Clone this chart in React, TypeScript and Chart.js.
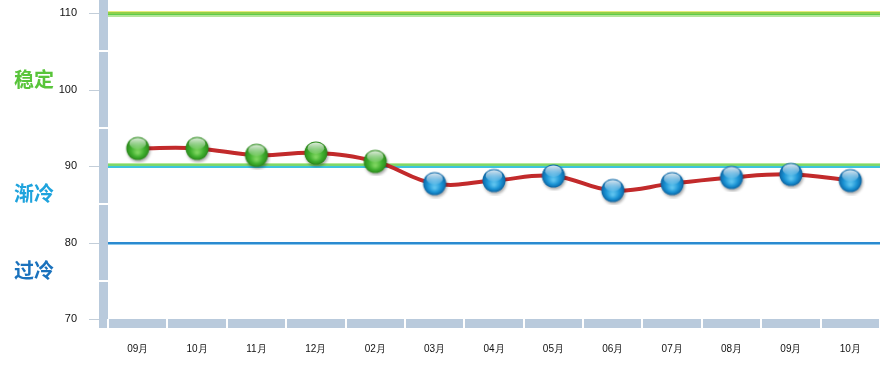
import React, { useEffect, useRef } from 'react';
import { Chart, registerables } from 'chart.js';

Chart.register(...registerables);

const categories = ['09月', '10月', '11月', '12月', '02月', '03月', '04月', '05月', '06月', '07月', '08月', '09月', '10月'];
const values = [92.3, 92.3, 91.4, 91.7, 90.6, 87.7, 88.1, 88.7, 86.8, 87.7, 88.5, 88.9, 88.1];
const yTickValues = [70, 75, 80, 85, 90, 95, 100, 105, 110];
const zoneNames = ['稳定', '渐冷', '过冷'];
const zoneColors = ['#58c43a', '#1ea3dd', '#1a72bd'];
const zoneThreshold = 90;

const BAR = '#b9cadc';

function makeBall(dark: string, mid: string, light: string): HTMLCanvasElement {
  const S = 30;
  const c = document.createElement('canvas');
  c.width = S;
  c.height = S;
  const ctx = c.getContext('2d')!;
  const cx = 15, cy = 15, r = 11.5;
  ctx.save();
  ctx.shadowColor = 'rgba(0,0,0,0.35)';
  ctx.shadowBlur = 3;
  ctx.shadowOffsetX = 1;
  ctx.shadowOffsetY = 2;
  ctx.beginPath();
  ctx.arc(cx, cy, r, 0, Math.PI * 2);
  ctx.fillStyle = dark;
  ctx.fill();
  ctx.restore();
  const g = ctx.createRadialGradient(cx, cy + 4, 1, cx, cy, r);
  g.addColorStop(0, light);
  g.addColorStop(0.55, mid);
  g.addColorStop(1, dark);
  ctx.beginPath();
  ctx.arc(cx, cy, r - 0.6, 0, Math.PI * 2);
  ctx.fillStyle = g;
  ctx.fill();
  const gl = ctx.createLinearGradient(0, cy - r, 0, cy + 1);
  gl.addColorStop(0, 'rgba(255,255,255,0.9)');
  gl.addColorStop(1, 'rgba(255,255,255,0.08)');
  ctx.beginPath();
  ctx.ellipse(cx, cy - r * 0.42, r * 0.72, r * 0.5, 0, 0, Math.PI * 2);
  ctx.fillStyle = gl;
  ctx.fill();
  return c;
}

const decorPlugin = {
  id: 'decor',
  beforeDatasetsDraw(chart: any) {
    const { ctx, chartArea } = chart;
    const y = chart.scales.y;
    const { left, right, bottom } = chartArea;
    ctx.save();
    // vertical axis bar
    ctx.fillStyle = BAR;
    ctx.fillRect(left - 9, 0, 9, bottom + 9);
    // horizontal axis bar
    ctx.fillRect(left + 1, bottom, right - left - 2, 9);
    // white separators on bottom bar
    ctx.fillStyle = '#ffffff';
    const step = (right - left) / categories.length;
    for (let i = 0; i < categories.length; i++) {
      const bx = Math.round(left + i * step);
      ctx.fillRect(bx - 1, bottom, 2, 9);
    }
    // minor tick separators on vertical bar / major tick marks
    yTickValues.forEach((v) => {
      const py = Math.round(y.getPixelForValue(v));
      if (v % 10 !== 0) {
        ctx.fillStyle = '#ffffff';
        ctx.fillRect(left - 9, py - 1, 9, 2);
      } else {
        ctx.fillStyle = '#c3ced9';
        ctx.fillRect(left - 19, py, 10, 1);
      }
    });
    // reference lines
    const l110 = Math.round(y.getPixelForValue(110));
    ctx.fillStyle = '#e8ec7a';
    ctx.fillRect(left, l110 - 2, right - left, 1);
    ctx.fillStyle = '#8fd04a';
    ctx.fillRect(left, l110 - 1, right - left, 2);
    ctx.fillStyle = '#5fcc4a';
    ctx.fillRect(left, l110 + 1, right - left, 1);
    ctx.fillStyle = '#b4e69a';
    ctx.fillRect(left, l110 + 2, right - left, 2);

    const l90 = Math.round(y.getPixelForValue(90));
    ctx.fillStyle = '#b6e89a';
    ctx.fillRect(left, l90 - 3, right - left, 1);
    ctx.fillStyle = '#7ed86a';
    ctx.fillRect(left, l90 - 2, right - left, 2);
    ctx.fillStyle = '#3ec4dc';
    ctx.fillRect(left, l90, right - left, 2);

    const l80 = Math.round(y.getPixelForValue(80));
    ctx.fillStyle = '#2a8ad0';
    ctx.fillRect(left, l80 - 1, right - left, 2);
    ctx.fillStyle = '#8cc8ec';
    ctx.fillRect(left, l80 + 1, right - left, 1);

    // zone labels
    const zoneLabelValues = [101.3, 86.4, 76.3];
    ctx.font = 'bold 20px "Noto Sans CJK SC", sans-serif';
    ctx.textBaseline = 'middle';
    ctx.textAlign = 'left';
    zoneNames.forEach((n, i) => {
      ctx.fillStyle = zoneColors[i];
      ctx.fillText(n, 14, y.getPixelForValue(zoneLabelValues[i]));
    });
    ctx.restore();
  },
};

export default function App() {
  const ref = useRef<HTMLCanvasElement>(null);
  useEffect(() => {
    const green = makeBall('#2c8a1c', '#3fae2e', '#7cd45e');
    const blue = makeBall('#0c67a6', '#1b93d4', '#5cc2ee');
    const chart = new Chart(ref.current!, {
      type: 'line',
      data: {
        labels: categories,
        datasets: [
          {
            data: values,
            borderColor: '#c22a2b',
            borderWidth: 4,
            tension: 0.4,
            pointStyle: (c: any) => (values[c.dataIndex] >= zoneThreshold ? green : blue) as any,
            pointRadius: 12,
            pointHoverRadius: 12,
            fill: false,
          },
        ],
      },
      options: {
        animation: false,
        responsive: false,
        devicePixelRatio: 1,
        layout: { autoPadding: false, padding: { top: 0, right: 14, bottom: 0, left: 0 } },
        plugins: { legend: { display: false }, tooltip: { enabled: false } },
        scales: {
          x: {
            offset: true,
            grid: { display: false, drawTicks: false },
            border: { display: false },
            ticks: {
              padding: 24,
              color: '#111',
              font: { family: '"Liberation Sans", Arial, sans-serif', size: 10 },
              maxRotation: 0,
              autoSkip: false,
            },
            afterFit: (s: any) => {
              s.height = 54;
              s.paddingLeft = 0;
              s.paddingRight = 0;
            },
          },
          y: {
            min: 70,
            max: 111.7,
            grid: { display: false, drawTicks: false },
            border: { display: false },
            afterBuildTicks: (s: any) => {
              s.ticks = yTickValues.map((v) => ({ value: v }));
            },
            ticks: {
              padding: 31,
              color: '#111',
              font: { family: '"Liberation Sans", Arial, sans-serif', size: 11 },
              callback: (v: any) => (Number(v) % 10 === 0 ? String(v) : ''),
            },
            afterFit: (s: any) => {
              s.width = 108;
              s.paddingTop = 0;
              s.paddingBottom = 0;
            },
          },
        },
      },
      plugins: [decorPlugin],
    });
    return () => chart.destroy();
  }, []);
  return (
    <div style={{ position: 'fixed', left: 0, top: 0, width: 894, height: 373, background: '#fff' }}>
      <canvas ref={ref} width={894} height={373} style={{ display: 'block' }} />
    </div>
  );
}
